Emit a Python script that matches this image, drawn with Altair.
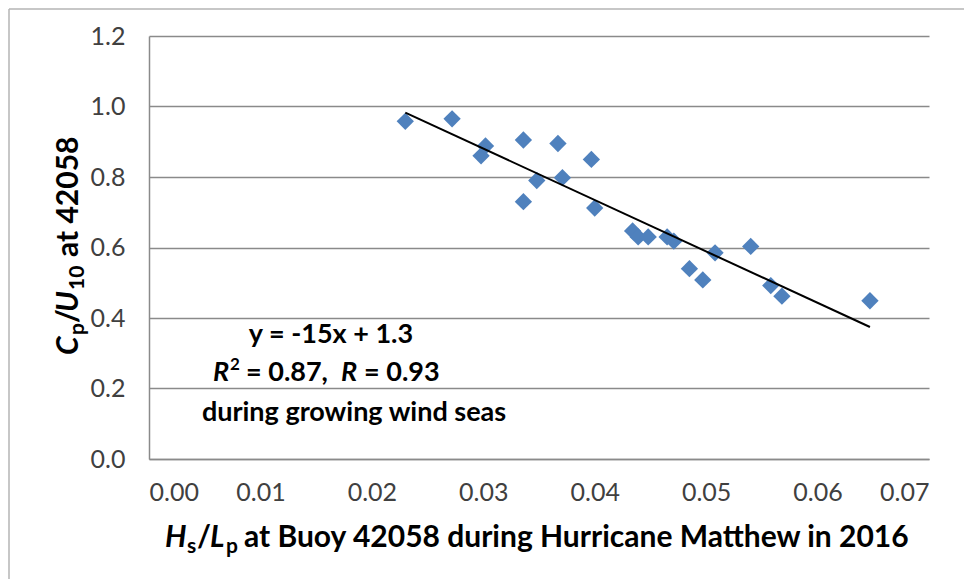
import altair as alt
import pandas as pd

# Data
hs_lp = [0.0230, 0.0272, 0.0298, 0.0302, 0.0336, 0.0336, 0.0348, 0.0367, 0.0371,
         0.0397, 0.0400, 0.0434, 0.0439, 0.0448, 0.0465, 0.0471, 0.0485, 0.0497,
         0.0508, 0.0540, 0.0558, 0.0568, 0.0647]
cp_u10 = [0.958, 0.965, 0.860, 0.888, 0.905, 0.730, 0.790, 0.895, 0.798,
          0.850, 0.712, 0.647, 0.630, 0.630, 0.630, 0.618, 0.540, 0.508,
          0.585, 0.603, 0.492, 0.462, 0.449]
x_ticks = [0.00, 0.01, 0.02, 0.03, 0.04, 0.05, 0.06, 0.07]
y_ticks = [0.0, 0.2, 0.4, 0.6, 0.8, 1.0, 1.2]

FONT = "Lato"
GRID = "#8a8a8a"
BLUE = "#4F81BD"

df = pd.DataFrame({"x": hs_lp, "y": cp_u10})

W, H = 780, 423

xscale = alt.Scale(domain=[0, 0.07], nice=False, zero=True)
yscale = alt.Scale(domain=[0, 1.2], nice=False, zero=True)

base = alt.Chart(df)

points = base.mark_point(shape="diamond", filled=True, size=300, color=BLUE, opacity=1).encode(
    x=alt.X("x:Q", scale=xscale,
            axis=alt.Axis(values=x_ticks, format=".2f", title=None, grid=False, ticks=False,
                          domain=True, domainColor=GRID, domainWidth=1.5,
                          labelFont=FONT, labelFontSize=25, labelColor="#404040",
                          labelPadding=21)),
    y=alt.Y("y:Q", scale=yscale,
            axis=alt.Axis(values=y_ticks, format=".1f", title=None, grid=True, gridColor=GRID,
                          gridWidth=1.5, ticks=False, domain=True, domainColor=GRID,
                          domainWidth=1.5, labelFont=FONT, labelFontSize=25,
                          labelColor="#404040", labelPadding=24)),
)

trend = base.transform_regression("x", "y").mark_line(color="black", strokeWidth=2).encode(
    x=alt.X("x:Q", scale=xscale), y=alt.Y("y:Q", scale=yscale)
)


def txt(s, x, y, size=30, italic=False, bold=True, angle=0, align="left", baseline="alphabetic"):
    kw = dict(text=s, font=FONT, fontSize=size, fontWeight="bold" if bold else "normal",
              fontStyle="italic" if italic else "normal", color="black",
              align=align, baseline=baseline)
    if angle:
        kw["angle"] = angle
    return alt.Chart(pd.DataFrame({"a": [0]})).mark_text(**kw).encode(
        x=alt.value(x), y=alt.value(y))


# x-axis title pieces: H_s/L_p at Buoy ...
xt_y = 511
xsub_y = 517
xtitle = [
    txt("H", 16, xt_y, italic=True),
    txt("s", 38, xsub_y, size=21),
    txt("/", 48, xt_y),
    txt("L", 61, xt_y, italic=True),
    txt("p", 77, xsub_y, size=21),
    txt("at Buoy 42058 during Hurricane Matthew in 2016", 95, xt_y),
]

# y-axis title pieces (rotated): C_p/U_10 at 42058
yt_x = -71
ysub_x = -65
ytitle = [
    txt("C", yt_x, 319, italic=True, angle=270),
    txt("p", ysub_x, 299, size=21, angle=270),
    txt("/", yt_x, 287, angle=270),
    txt("U", yt_x, 276, italic=True, angle=270),
    txt("10", ysub_x, 254, size=21, angle=270),
    txt("at 42058", yt_x, 221, angle=270),
]

# annotation
AS = 27
ann = [
    txt("y = -15x + 1.3", 182, 299, size=AS, align="center", baseline="middle"),
    txt("R", 64, 345, size=AS, italic=True),
    txt("2", 81, 334, size=17),
    txt("= 0.87,", 97, 345, size=AS),
    txt("R", 192, 345, size=AS, italic=True),
    txt("= 0.93", 215, 345, size=AS),
    txt("during growing wind seas", 205, 377, size=AS, align="center", baseline="middle"),
]

border_top = alt.Chart(pd.DataFrame({"a": [0]})).mark_rule(color="#b4b4b4", strokeWidth=1.5).encode(
    x=alt.value(-140), x2=alt.value(830), y=alt.value(-27))
border_left = alt.Chart(pd.DataFrame({"a": [0]})).mark_rule(color="#b4b4b4", strokeWidth=1.5).encode(
    x=alt.value(-140), y=alt.value(-27), y2=alt.value(560))

chart = alt.layer(points, trend, *xtitle, *ytitle, *ann, border_top, border_left).properties(
    width=W, height=H,
    autosize=alt.AutoSizeParams(type="none"),
    padding={"left": 141, "top": 28, "right": 35, "bottom": 120},
).configure_view(stroke=None)

chart.save("out.html", embed_options={"renderer": "svg", "actions": False})
